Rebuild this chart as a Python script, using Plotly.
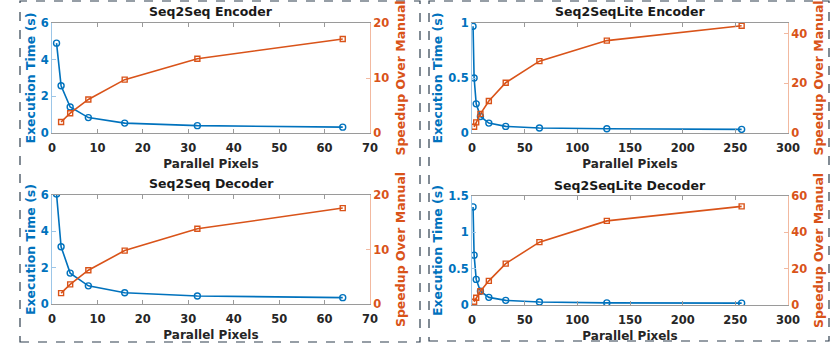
import plotly.graph_objects as go

W, H = 831, 346

# ---------------- data ----------------
pixels_s2s = [1, 2, 4, 8, 16, 32, 64]
pixels_lite = [1, 2, 4, 8, 16, 32, 64, 128, 256]

enc_time = [4.9, 2.58, 1.42, 0.84, 0.54, 0.40, 0.32]
enc_speed_x = [2, 4, 8, 16, 32, 64]
enc_speed = [2.0, 3.6, 6.1, 9.7, 13.5, 17.1]

dec_time = [6.05, 3.15, 1.70, 1.00, 0.62, 0.44, 0.35]
dec_speed_x = [2, 4, 8, 16, 32, 64]
dec_speed = [2.0, 3.6, 6.2, 9.8, 13.8, 17.6]

lenc_time = [0.97, 0.50, 0.265, 0.15, 0.09, 0.06, 0.045, 0.038, 0.033]
lenc_speed_x = [2, 4, 8, 16, 32, 64, 128, 256]
lenc_speed = [2.5, 4.3, 7.7, 12.9, 20.3, 29.0, 37.3, 43.3]

ldec_time = [1.35, 0.686, 0.352, 0.19, 0.105, 0.064, 0.041, 0.029, 0.026]
ldec_speed_x = [2, 4, 8, 16, 32, 64, 128, 256]
ldec_speed = [1.8, 4.0, 7.6, 13.3, 22.8, 34.6, 46.3, 54.3]

titles = ["Seq2Seq Encoder", "Seq2Seq Decoder", "Seq2SeqLite Encoder", "Seq2SeqLite Decoder"]
x_title = "Parallel Pixels"
yl_title = "Execution Time (s)"
yr_title = "Speedup Over Manual"

BLUE = "#0072BD"
ORANGE = "#D95319"
FONT = "DejaVu Sans, Liberation Sans, Arial, sans-serif"

# plot areas in pixels (left, right, top, bottom)
boxes = [(52, 370, 23, 133), (52, 370, 195, 304), (472, 788, 23, 133), (472, 788, 196, 305)]

panels = [
    (pixels_s2s, enc_time, enc_speed_x, enc_speed, [0, 70], 10, [0, 6], 2, [0, 20], 10),
    (pixels_s2s, dec_time, dec_speed_x, dec_speed, [0, 70], 10, [0, 6], 2, [0, 20], 10),
    (pixels_lite, lenc_time, lenc_speed_x, lenc_speed, [0, 300], 50, [0, 1], 0.5, [0, 44.4], 20),
    (pixels_lite, ldec_time, ldec_speed_x, ldec_speed, [0, 300], 50, [0, 1.5], 0.5, [0, 60], 20),
]

fig = go.Figure()
layout = dict(
    width=W, height=H, margin=dict(l=0, r=0, t=0, b=0, autoexpand=False),
    paper_bgcolor="white", plot_bgcolor="white", showlegend=False,
    font=dict(family=FONT),
)
annotations = []
shapes = []

for i, (b, p) in enumerate(zip(boxes, panels)):
    xs, yt, sx, sy, xr, xd, ylr, yld, yrr, yrd = p
    L, R, T, B = b
    xn = i + 1
    yln = 2 * i + 1
    yrn = 2 * i + 2
    xa = "x" if xn == 1 else f"x{xn}"
    yla = "y" if yln == 1 else f"y{yln}"
    yra = f"y{yrn}"
    fig.add_trace(go.Scatter(
        x=xs, y=yt, xaxis=xa, yaxis=yla, mode="lines+markers",
        line=dict(color=BLUE, width=1.6),
        marker=dict(symbol="circle-open", size=6, color=BLUE, line=dict(width=1.4)),
    ))
    fig.add_trace(go.Scatter(
        x=sx, y=sy, xaxis=xa, yaxis=yra, mode="lines+markers",
        line=dict(color=ORANGE, width=1.6),
        marker=dict(symbol="square-open", size=5, color=ORANGE, line=dict(width=1.4)),
    ))
    layout["xaxis" if xn == 1 else f"xaxis{xn}"] = dict(
        domain=[L / W, R / W], anchor=yla, range=xr, dtick=xd,
        showline=True, linecolor="#9a9a9a", linewidth=1, mirror="ticks",
        ticks="inside", ticklen=4, tickcolor="#9a9a9a",
        showgrid=False, zeroline=False, automargin=False,
        tickfont=dict(family=FONT, size=11.5, color="#262626"), ticklabelstandoff=4,
        title=dict(text=f"<b>{x_title}</b>", font=dict(family=FONT, size=12, color="#262626"), standoff=5),
        tickprefix="<b>", ticksuffix="</b>",
    )
    layout["yaxis" if yln == 1 else f"yaxis{yln}"] = dict(
        domain=[1 - B / H, 1 - T / H], anchor=xa, range=ylr, dtick=yld,
        showline=True, linecolor="#9cc6e8", linewidth=1,
        ticks="inside", ticklen=4, tickcolor="#9cc6e8",
        showgrid=False, zeroline=False, automargin=False,
        tickfont=dict(family=FONT, size=11.5, color=BLUE),
        tickprefix="<b>", ticksuffix="</b>",
        title=dict(text=f"<b>{yl_title}</b>", font=dict(family=FONT, size=12.5, color=BLUE), standoff=2),
    )
    layout[f"yaxis{yrn}"] = dict(
        domain=[1 - B / H, 1 - T / H], anchor=xa, overlaying=yla, side="right",
        range=yrr, dtick=yrd,
        showline=True, linecolor="#f2b9a0", linewidth=1,
        ticks="inside", ticklen=4, tickcolor="#f2b9a0",
        showgrid=False, zeroline=False, automargin=False,
        tickfont=dict(family=FONT, size=11.5, color=ORANGE),
        tickprefix="<b>", ticksuffix="</b>",
        title=dict(text=f"<b>{yr_title}</b>", font=dict(family=FONT, size=12.5, color=ORANGE), standoff=7),
    )
    annotations.append(dict(
        text=f"<b>{titles[i]}</b>", xref="paper", yref="paper",
        x=(L + R) / 2 / W, y=1 - (T - 11) / H, showarrow=False,
        font=dict(family=FONT, size=12.5, color="#1a1a1a"), xanchor="center", yanchor="middle",
    ))

# dashed group frames
for (x0, x1, y0, y1) in [(20, 420, 1, 342), (429, 829, 1, 341)]:
    shapes.append(dict(
        type="rect", xref="paper", yref="paper",
        x0=x0 / W, x1=x1 / W, y0=1 - y1 / H, y1=1 - y0 / H,
        line=dict(color="#2f3f4f", width=1.2, dash="dash"),
    ))

layout["annotations"] = annotations
layout["shapes"] = shapes
fig.update_layout(**layout)
fig.write_html(
    "out.html",
    config={"displayModeBar": False},
    post_script="document.body.style.margin='0';document.body.style.overflow='hidden';",
)
